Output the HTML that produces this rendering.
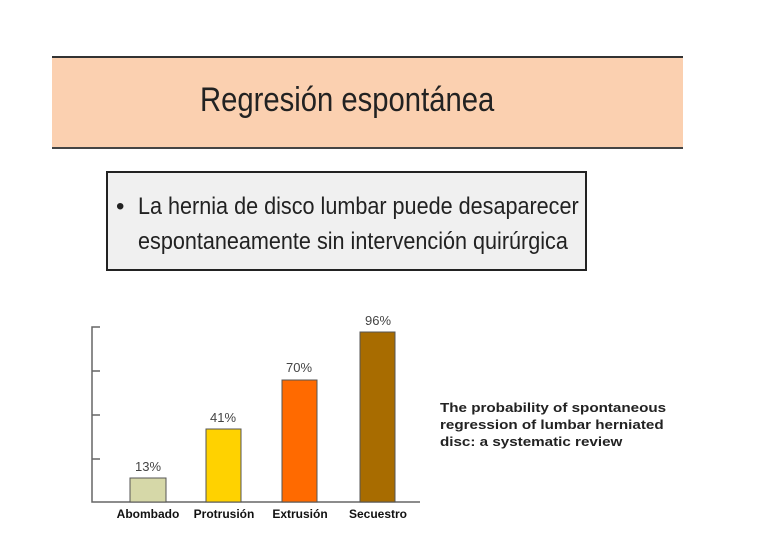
<!DOCTYPE html>
<html><head><style>
body{margin:0;width:768px;height:545px;background:#fff;position:relative;overflow:hidden;font-family:"Liberation Sans",sans-serif}
.a{position:absolute}
</style></head><body>
<div class="a" style="left:52px;top:56px;width:631px;height:89px;background:#fbd0b0;border-top:2px solid #333;border-bottom:2px solid #444"></div>
<div class="a" style="left:200px;top:81px;font-size:34px;color:#222;transform:scaleX(0.86);transform-origin:0 0;white-space:nowrap">Regresión espontánea</div>
<div class="a" style="left:106px;top:171px;width:477px;height:96px;background:#f0f0f0;border:2px solid #222"></div>
<div class="a" style="left:116px;top:189px;font-size:24px;color:#222;line-height:35px;white-space:nowrap"><span style="position:absolute;left:0">•</span><div style="position:absolute;left:22px;transform:scaleX(0.9);transform-origin:0 0">La hernia de disco lumbar puede desaparecer<br>espontaneamente sin intervención quirúrgica</div></div>
<svg class="a" style="left:0;top:0" width="768" height="545">
<g stroke="#666" stroke-width="1.5" fill="none">
<path d="M100 327H92V502H420M92 371H100M92 415H100M92 459H100"/>
</g>
<rect x="130" y="478" width="36" height="24" fill="#d6d8a8" stroke="#555"/>
<rect x="206" y="429" width="35" height="73" fill="#ffd200" stroke="#555"/>
<rect x="282" y="380" width="35" height="122" fill="#ff6a00" stroke="#555"/>
<rect x="360" y="332" width="35" height="170" fill="#a86c00" stroke="#555"/>
<g font-size="13" fill="#444" text-anchor="middle">
<text x="148" y="471">13%</text><text x="223" y="422">41%</text><text x="299" y="372">70%</text><text x="378" y="325">96%</text>
</g>
<g font-size="12" font-weight="bold" fill="#111" text-anchor="middle">
<text x="148" y="518">Abombado</text><text x="224" y="518">Protrusión</text><text x="300" y="518">Extrusión</text><text x="378" y="518">Secuestro</text>
</g>
<g font-size="13" font-weight="bold" fill="#222" transform="translate(440 0) scale(1.17 1) translate(-440 0)">
<text x="440" y="412">The probability of spontaneous</text>
<text x="440" y="429">regression of lumbar herniated</text>
<text x="440" y="446">disc: a systematic review</text>
</g>
</svg>
</body></html>
